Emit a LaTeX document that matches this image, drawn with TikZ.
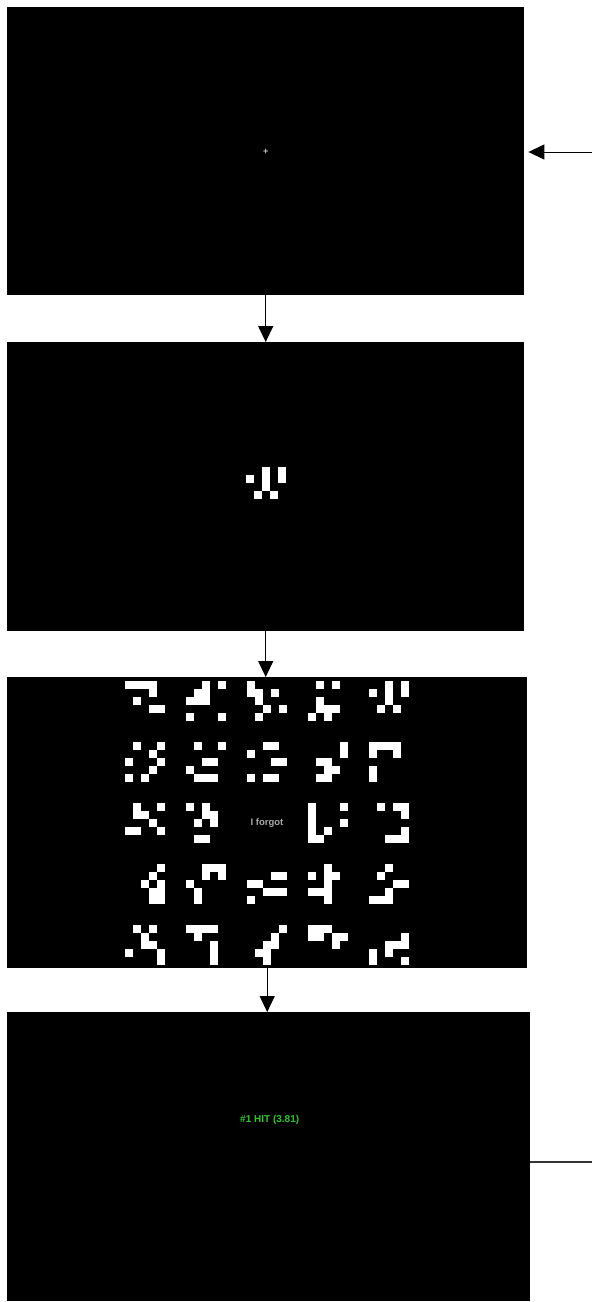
\documentclass[tikz,border=0pt]{standalone}
\usepackage{fontspec}
\setsansfont{Liberation Sans}
\usetikzlibrary{arrows.meta, positioning, calc}
\definecolor{hitgreen}{RGB}{40,200,40}
\definecolor{dimtext}{RGB}{170,170,170}
\definecolor{crossgray}{RGB}{200,200,200}
\tikzset{
  screen/.style={
    draw=none, fill=black, inner sep=0pt, anchor=north west
  },
  pixel/.style={fill=white},
  flowarrow/.style={
    -{Triangle[length=16pt,width=15pt]}, line width=1.2pt, black
  },
  loopline/.style={line width=1.2pt, black!80},
  screenlabel/.style={
    font=\sffamily\bfseries\fontsize{10}{12}\selectfont, inner sep=0pt
  },
}
% glyph: left, top, cell size, list of column/row
\newcommand{\glyph}[4]{%
  \foreach \c/\r in {#4} {
    \fill[pixel] ({#1+\c*#3},{#2+\r*#3}) rectangle ++(#3,#3);
  }%
}

\begin{document}
\begin{tikzpicture}[x=1pt, y=-1pt]
  \useasboundingbox (0,0) rectangle (592,1302);

  % ── Screens ────────────────────────────────────────────────────
  \node[screen, minimum width=517pt, minimum height=288pt]
    (cue) at (7,7) {};
  \node[screen, minimum width=517pt, minimum height=289pt]
    (probe) at (7,342) {};
  \node[screen, minimum width=520pt, minimum height=291pt]
    (choices) at (7,677) {};
  \node[screen, minimum width=523pt, minimum height=289pt]
    (feedback) at (7,1012) {};

  % ── Fixation cross ─────────────────────────────────────────────
  \node[text=crossgray, font=\sffamily\bfseries\fontsize{9}{9}\selectfont,
        inner sep=0pt]
    (fixation) at (265.8,152.3) {+};

  % ── Probe glyph ────────────────────────────────────────────────
  \glyph{246}{467}{8}{2/0,4/0,0/1,2/1,4/1,2/2,1/3,3/3}

  % ── Choice grid ────────────────────────────────────────────────
  \glyph{125}{681}{7.9}{0/0,1/0,2/0,3/0,3/1,1/2,3/3,4/3}
  \glyph{186}{681}{7.9}{2/0,4/0,1/1,2/1,0/2,1/2,2/2,0/4,4/4}
  \glyph{247}{681}{7.9}{0/0,0/1,1/1,3/1,1/2,2/3,4/3,1/4}
  \glyph{308}{681}{7.9}{1/0,3/0,1/2,1/3,2/3,3/3,0/4,2/4}
  \glyph{369}{681}{7.9}{2/0,4/0,0/1,2/1,4/1,2/2,1/3,3/3}

  \glyph{125}{742}{7.9}{1/0,4/0,3/1,0/2,4/2,3/3,0/4,2/4}
  \glyph{186}{742}{7.9}{1/0,4/0,2/2,3/2,0/3,1/4,2/4,3/4}
  \glyph{247}{742}{7.9}{2/0,3/0,0/1,3/2,4/2,0/4,2/4,3/4}
  \glyph{308}{742}{7.9}{4/0,4/1,1/2,2/2,2/3,3/3,1/4,2/4}
  \glyph{369}{742}{7.9}{0/0,1/0,2/0,3/0,0/1,3/1,0/3,0/4}

  \glyph{125}{803}{7.9}{1/0,4/0,1/1,2/1,3/2,0/3,1/3,4/3}
  \glyph{186}{803}{7.9}{0/0,2/0,2/1,3/1,1/2,3/2,1/4,2/4}
  \node[screenlabel, text=dimtext, font=\sffamily\bfseries\fontsize{9.5}{11}\selectfont]
    (forgot) at (267,823.5) {I forgot};
  \glyph{308}{803}{7.9}{0/0,4/0,0/1,0/2,4/2,0/3,2/3,0/4,1/4}
  \glyph{369}{803}{7.9}{1/0,3/0,4/0,4/1,4/3,2/4,3/4,4/4}

  \glyph{125}{864}{7.9}{4/0,3/1,2/2,4/2,3/3,4/3,3/4,4/4}
  \glyph{186}{864}{7.9}{2/0,3/0,4/0,2/1,4/1,0/2,1/3,1/4}
  \glyph{247}{864}{7.9}{3/1,4/1,0/2,1/2,2/3,3/3,4/3,0/4}
  \glyph{308}{864}{7.9}{2/0,0/1,2/1,3/1,2/2,0/3,1/3,2/3,2/4}
  \glyph{369}{864}{7.9}{2/0,1/1,3/2,4/2,2/3,0/4,1/4,2/4}

  \glyph{125}{925}{7.9}{1/0,3/0,2/1,2/2,3/2,0/3,4/3,4/4}
  \glyph{186}{925}{7.9}{0/0,1/0,2/0,3/0,1/1,3/2,3/3,3/4}
  \glyph{247}{925}{7.9}{4/0,3/1,2/2,3/2,1/3,2/3,2/4}
  \glyph{308}{925}{7.9}{0/0,1/0,2/0,0/1,1/1,3/1,4/1,3/2}
  \glyph{369}{925}{7.9}{4/1,2/2,3/2,4/2,0/3,2/3,0/4,4/4}

  % ── Feedback ───────────────────────────────────────────────────
  \node[screenlabel, text=hitgreen] (hit) at (269.7,1119.5)
    {\#1 HIT (3.81)};

  % ── Flow ───────────────────────────────────────────────────────
  \draw[flowarrow] (cue.south) -- (probe.north);
  \draw[flowarrow] (probe.south) -- (probe.south |- choices.north);
  \draw[flowarrow] (choices.south) -- (choices.south |- feedback.north);

  \coordinate (loopin) at (592,152);
  \coordinate (loopout) at (592,1162);
  \draw[flowarrow, line width=1pt, shorten >=4pt]
    (loopin) -- (loopin -| cue.east);
  \draw[loopline] (loopout -| feedback.east) -- (loopout);
\end{tikzpicture}
\end{document}
